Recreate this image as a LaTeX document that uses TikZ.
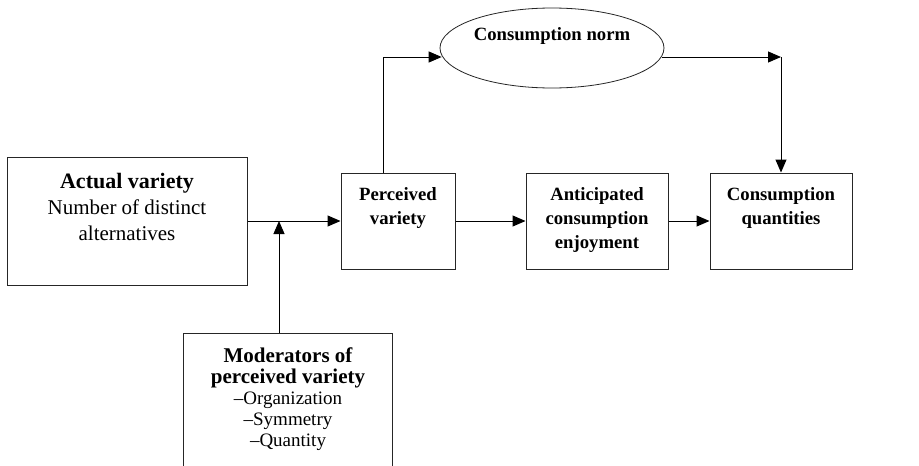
\documentclass[tikz,border=0pt]{standalone}
\usepackage{fontspec}
\setmainfont{Liberation Serif}
\usetikzlibrary{arrows.meta,shapes.geometric}
\newcommand{\bigb}{\fontsize{18.7}{24}\selectfont\bfseries}
\begin{document}
\begin{tikzpicture}[x=1pt,y=-1pt,
  box/.style={draw=black!85,line width=1pt,inner sep=0pt,minimum width=#1},
  txt/.style={inner sep=0pt,anchor=north,align=center},
  arr/.style={line width=1pt,-{Triangle[length=13pt,width=11pt]}},
  ln/.style={line width=1pt}]
\useasboundingbox[fill=white] (0,0) rectangle (919,466);
% boxes
\node[box=240,minimum height=128] (actual) at (127,221) {};
\node[box=114,minimum height=96] (perceived) at (398,221) {};
\node[box=142,minimum height=96] (anticip) at (597,221) {};
\node[box=142,minimum height=96] (quant) at (781,221) {};
\begin{scope}
\clip (0,0) rectangle (919,466);
\node[box=209,minimum height=140] (mod) at (287.5,403) {};
\end{scope}
\node[ellipse,draw=black!85,line width=0.8pt,inner sep=0pt,minimum width=224,minimum height=80] (norm) at (552,48) {};
% texts
\node[txt,font=\fontsize{22}{26}\selectfont] (actualt) at (127,173) {\bfseries Actual variety\\ \fontsize{21}{26}\selectfont Number of distinct\\ \fontsize{21}{26}\selectfont alternatives};
\node[txt,font=\bigb] (perceivedt) at (398,187) {Perceived\\ variety};
\node[txt,font=\bigb] (anticipt) at (597,187) {Anticipated\\ consumption\\ enjoyment};
\node[txt,font=\bigb] (quantt) at (781,187) {Consumption\\ quantities};
\node[txt,font=\bigb] (normt) at (552,27) {Consumption norm};
\node[txt,font=\fontsize{21}{21}\selectfont] (modt) at (288,348) {\bfseries Moderators of\\ \bfseries perceived variety\\ \fontsize{19}{21}\selectfont --Organization\\ \fontsize{19}{21}\selectfont --Symmetry\\ \fontsize{19}{21}\selectfont --Quantity};
% connector points
\coordinate (j) at (279,221);
\coordinate (c1) at (383,57);
\coordinate (c2) at (781,57);
% connectors
\draw[arr] (actual) -- (perceived);
\draw[arr] (mod.north -| j) -- (j);
\draw[arr] (perceived) -- (anticip);
\draw[arr] (anticip) -- (quant);
\draw[ln] (perceived.north -| c1) -- (c1);
\draw[arr] (c1) -- (c1 -| norm.184.7);
\draw[arr] (c2 -| norm.-4.7) -- (c2);
\draw[arr] (c2) -- (quant.north);
\end{tikzpicture}
\end{document}
